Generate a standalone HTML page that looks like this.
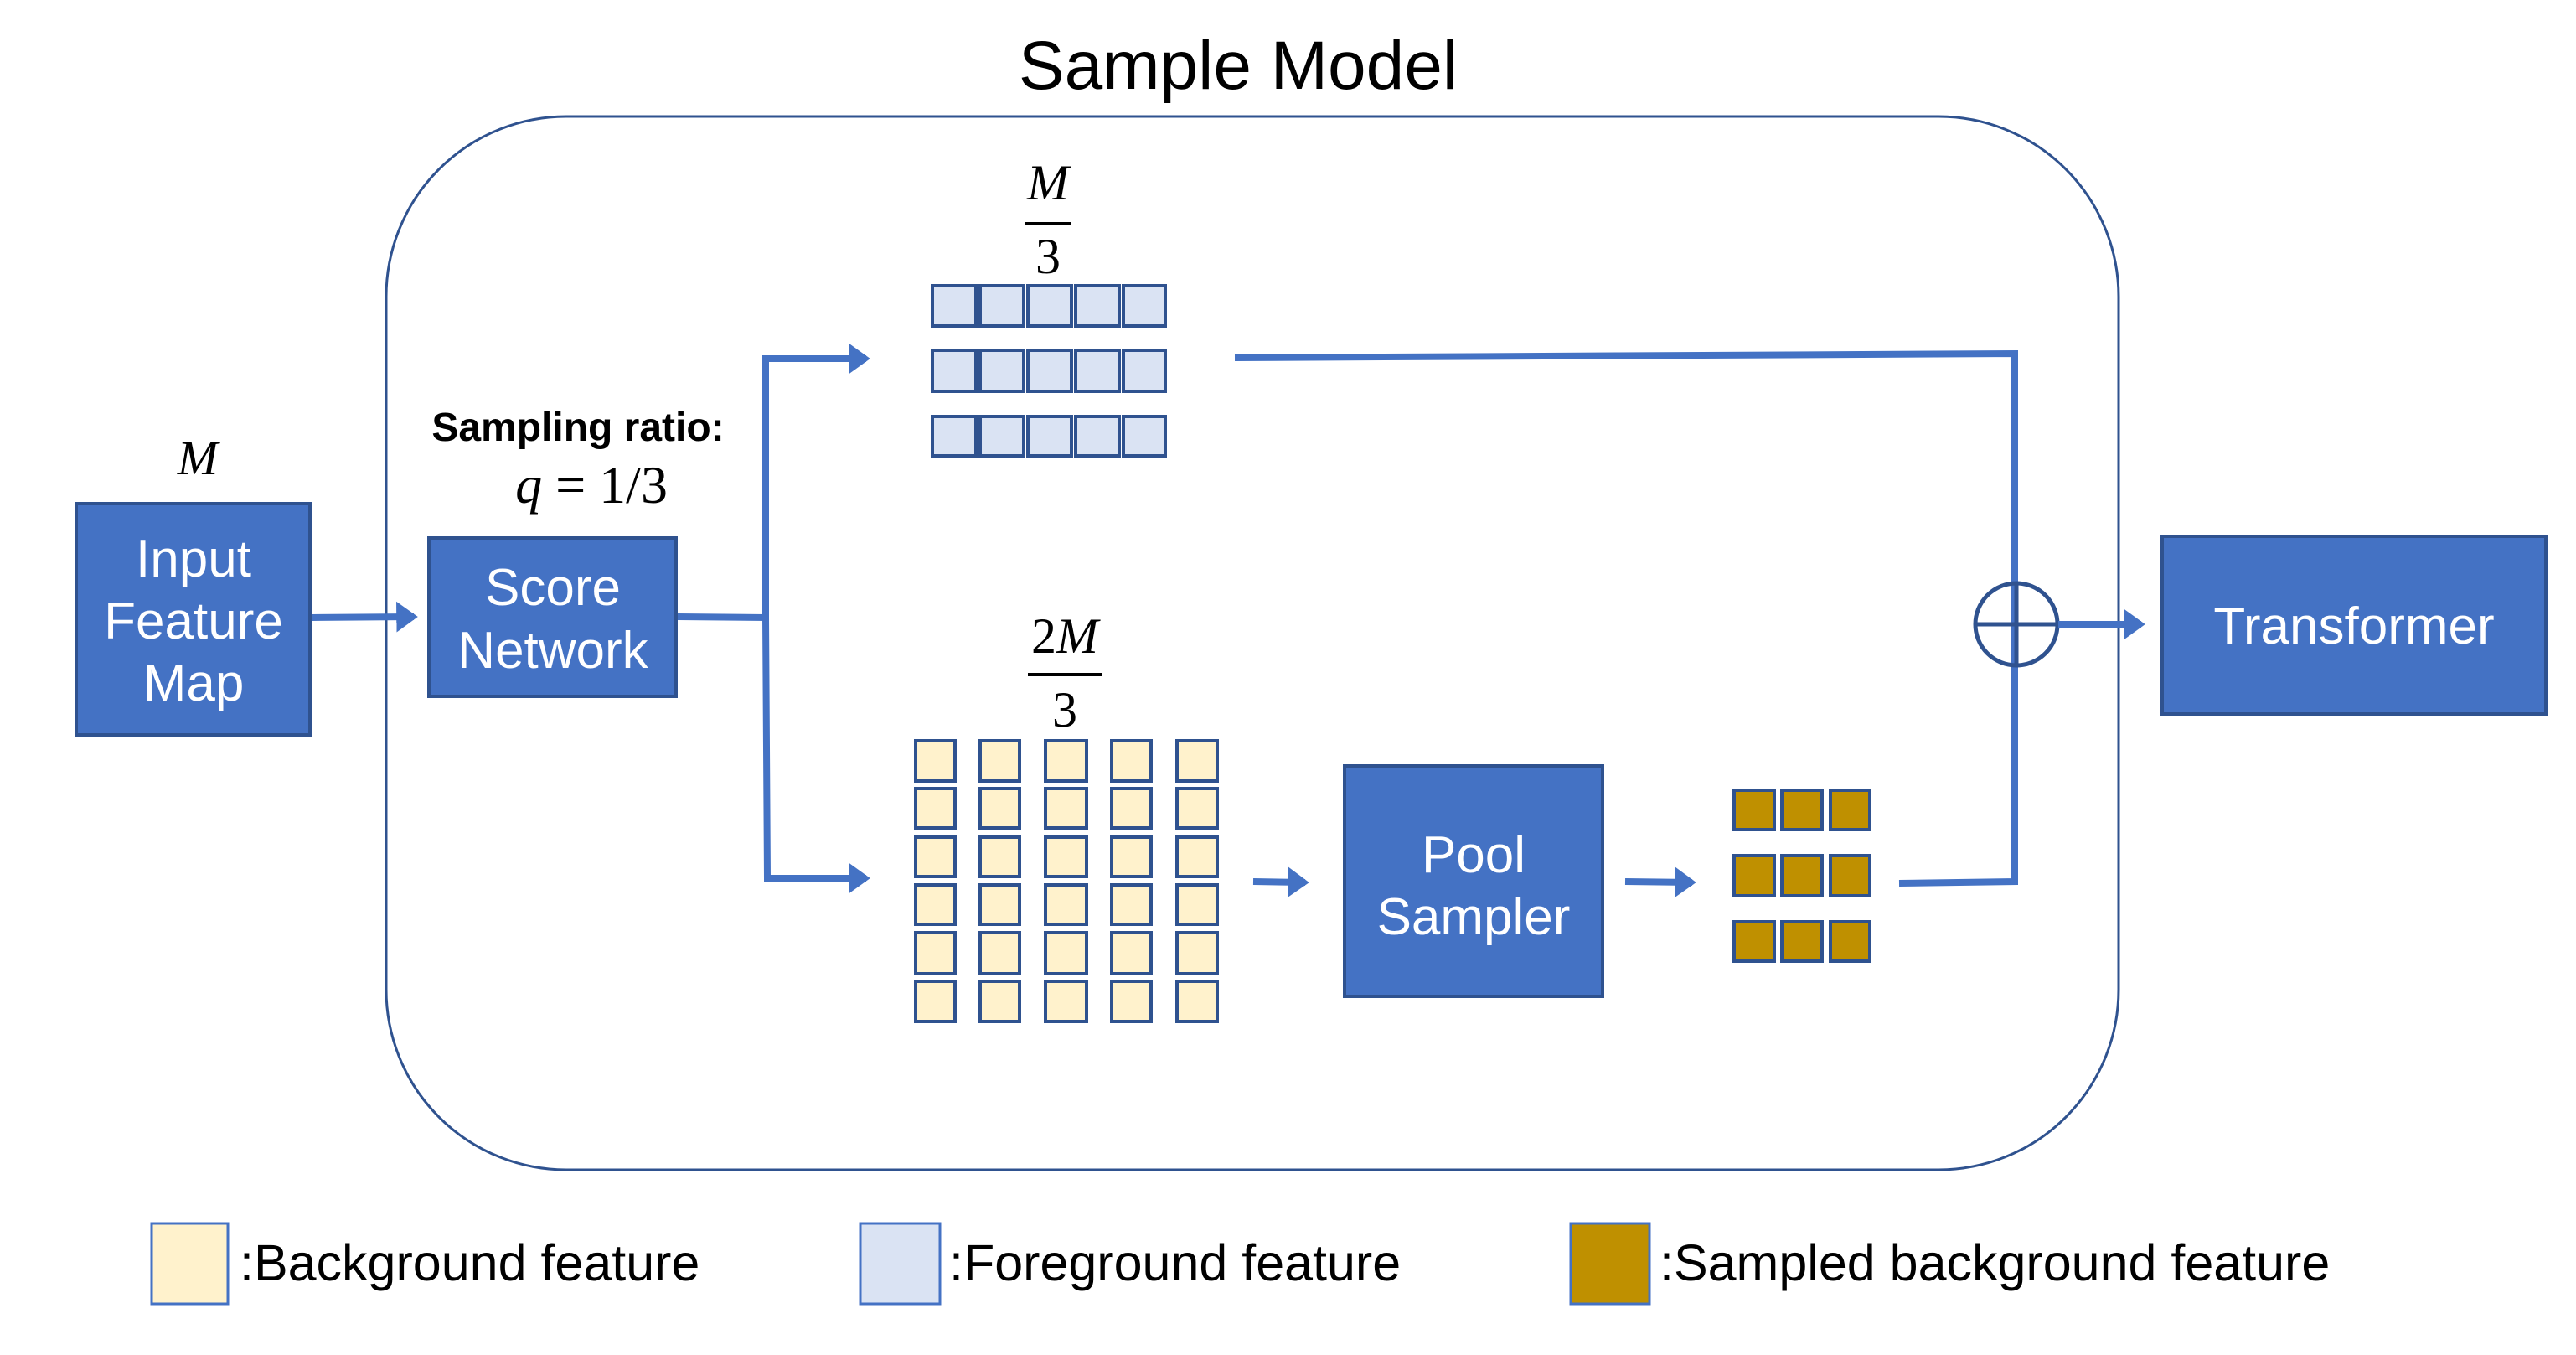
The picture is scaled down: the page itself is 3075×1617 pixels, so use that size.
<!DOCTYPE html>
<html><head><meta charset="utf-8"><style>
html,body{margin:0;padding:0;background:#fff;}
svg{display:block;}
</style></head><body>
<svg width="3075" height="1617" viewBox="0 0 3075 1617" xmlns="http://www.w3.org/2000/svg">
<defs>
<marker id="ah" markerWidth="5" markerHeight="5" refX="2.6" refY="2.5" orient="auto" markerUnits="strokeWidth">
<path d="M0,0.2 L3.2,2.5 L0,4.8 Z" fill="#4472C4"/>
</marker>
</defs>
<rect x="0" y="0" width="3075" height="1617" fill="#fff"/>
<text x="1478" y="106" font-family="Liberation Sans, sans-serif" font-size="82" text-anchor="middle" fill="#000">Sample Model</text>
<rect x="461" y="139" width="2068" height="1257" rx="215" ry="215" fill="none" stroke="#2F528F" stroke-width="3"/>

<text x="236" y="566" font-family="Liberation Serif, serif" font-style="italic" font-size="58" text-anchor="middle">M</text>
<rect x="91" y="601" width="279" height="276" fill="#4472C4" stroke="#2F528F" stroke-width="4"/>
<g font-family="Liberation Sans, sans-serif" font-size="62" fill="#fff" text-anchor="middle">
<text x="231" y="688">Input</text>
<text x="231" y="762">Feature</text>
<text x="231" y="836">Map</text>
</g>
<line x1="372" y1="737" x2="494" y2="736" stroke="#4472C4" stroke-width="8" marker-end="url(#ah)"/>

<text x="690" y="526" font-family="Liberation Sans, sans-serif" font-weight="bold" font-size="48" text-anchor="middle">Sampling ratio:</text>
<text x="706" y="600" font-family="Liberation Serif, serif" font-size="64" text-anchor="middle"><tspan font-style="italic">q</tspan> = 1/3</text>

<rect x="512" y="642" width="295" height="189" fill="#4472C4" stroke="#2F528F" stroke-width="4"/>
<g font-family="Liberation Sans, sans-serif" font-size="62" fill="#fff" text-anchor="middle">
<text x="660" y="722">Score</text>
<text x="660" y="797">Network</text>
</g>

<polyline points="809,736 914,737 914,428 1034,428" fill="none" stroke="#4472C4" stroke-width="8" marker-end="url(#ah)"/>
<polyline points="914,737 916,1048 1034,1048" fill="none" stroke="#4472C4" stroke-width="8" marker-end="url(#ah)"/>

<g font-family="Liberation Serif, serif" font-size="60" text-anchor="middle">
<text x="1251" y="238" font-style="italic">M</text>
<line x1="1223" y1="267" x2="1278" y2="267" stroke="#000" stroke-width="4"/>
<text x="1251" y="326">3</text>
<text x="1271" y="779"><tspan>2</tspan><tspan font-style="italic">M</tspan></text>
<line x1="1227" y1="805" x2="1316" y2="805" stroke="#000" stroke-width="4"/>
<text x="1271" y="867">3</text>
</g>

<g fill="#DAE3F3" stroke="#2F528F" stroke-width="4">
<rect x="1113" y="341" width="52" height="48"/><rect x="1170" y="341" width="52" height="48"/><rect x="1227" y="341" width="52" height="48"/><rect x="1284" y="341" width="52" height="48"/><rect x="1341" y="341" width="50" height="48"/>
<rect x="1113" y="418" width="52" height="49"/><rect x="1170" y="418" width="52" height="49"/><rect x="1227" y="418" width="52" height="49"/><rect x="1284" y="418" width="52" height="49"/><rect x="1341" y="418" width="50" height="49"/>
<rect x="1113" y="497" width="52" height="47"/><rect x="1170" y="497" width="52" height="47"/><rect x="1227" y="497" width="52" height="47"/><rect x="1284" y="497" width="52" height="47"/><rect x="1341" y="497" width="50" height="47"/>
</g>

<g fill="#FFF2CC" stroke="#2F528F" stroke-width="4">
<rect x="1093" y="884" width="47" height="48"/><rect x="1170" y="884" width="47" height="48"/><rect x="1248" y="884" width="49" height="48"/><rect x="1327" y="884" width="47" height="48"/><rect x="1405" y="884" width="48" height="48"/>
<rect x="1093" y="941" width="47" height="47"/><rect x="1170" y="941" width="47" height="47"/><rect x="1248" y="941" width="49" height="47"/><rect x="1327" y="941" width="47" height="47"/><rect x="1405" y="941" width="48" height="47"/>
<rect x="1093" y="999" width="47" height="47"/><rect x="1170" y="999" width="47" height="47"/><rect x="1248" y="999" width="49" height="47"/><rect x="1327" y="999" width="47" height="47"/><rect x="1405" y="999" width="48" height="47"/>
<rect x="1093" y="1056" width="47" height="47"/><rect x="1170" y="1056" width="47" height="47"/><rect x="1248" y="1056" width="49" height="47"/><rect x="1327" y="1056" width="47" height="47"/><rect x="1405" y="1056" width="48" height="47"/>
<rect x="1093" y="1113" width="47" height="49"/><rect x="1170" y="1113" width="47" height="49"/><rect x="1248" y="1113" width="49" height="49"/><rect x="1327" y="1113" width="47" height="49"/><rect x="1405" y="1113" width="48" height="49"/>
<rect x="1093" y="1171" width="47" height="48"/><rect x="1170" y="1171" width="47" height="48"/><rect x="1248" y="1171" width="49" height="48"/><rect x="1327" y="1171" width="47" height="48"/><rect x="1405" y="1171" width="48" height="48"/>
</g>

<line x1="1496" y1="1052" x2="1558" y2="1053" stroke="#4472C4" stroke-width="8" marker-end="url(#ah)"/>
<rect x="1605" y="914" width="308" height="275" fill="#4472C4" stroke="#2F528F" stroke-width="4"/>
<g font-family="Liberation Sans, sans-serif" font-size="62" fill="#fff" text-anchor="middle">
<text x="1759" y="1041">Pool</text>
<text x="1759" y="1115">Sampler</text>
</g>
<line x1="1940" y1="1052" x2="2020" y2="1053" stroke="#4472C4" stroke-width="8" marker-end="url(#ah)"/>

<g fill="#BF9000" stroke="#2F528F" stroke-width="4">
<rect x="2070" y="943" width="48" height="47"/><rect x="2127" y="943" width="48" height="47"/><rect x="2185" y="943" width="47" height="47"/>
<rect x="2070" y="1021" width="48" height="48"/><rect x="2127" y="1021" width="48" height="48"/><rect x="2185" y="1021" width="47" height="48"/>
<rect x="2070" y="1100" width="48" height="47"/><rect x="2127" y="1100" width="48" height="47"/><rect x="2185" y="1100" width="47" height="47"/>
</g>

<polyline points="1474,427 2405,422 2405,1052 2267,1054" fill="none" stroke="#4472C4" stroke-width="8"/>
<ellipse cx="2407" cy="745" rx="49" ry="49" fill="none" stroke="#2F528F" stroke-width="5"/>
<line x1="2358" y1="745" x2="2456" y2="745" stroke="#2F528F" stroke-width="5"/>
<line x1="2407" y1="696" x2="2407" y2="794" stroke="#2F528F" stroke-width="5"/>
<line x1="2457" y1="745" x2="2556" y2="745" stroke="#4472C4" stroke-width="8" marker-end="url(#ah)"/>

<rect x="2581" y="640" width="458" height="212" fill="#4472C4" stroke="#2F528F" stroke-width="4"/>
<text x="2810" y="768" font-family="Liberation Sans, sans-serif" font-size="62" fill="#fff" text-anchor="middle">Transformer</text>

<rect x="181" y="1460" width="91" height="96" fill="#FFF2CC" stroke="#4472C4" stroke-width="3"/>
<rect x="1027" y="1460" width="95" height="96" fill="#DAE3F3" stroke="#4472C4" stroke-width="3"/>
<rect x="1875" y="1460" width="94" height="96" fill="#BF9000" stroke="#4472C4" stroke-width="3"/>
<g font-family="Liberation Sans, sans-serif" font-size="61" fill="#000">
<text x="286" y="1528">:Background feature</text>
<text x="1133" y="1528">:Foreground feature</text>
<text x="1981" y="1528">:Sampled background feature</text>
</g>
</svg>
</body></html>
